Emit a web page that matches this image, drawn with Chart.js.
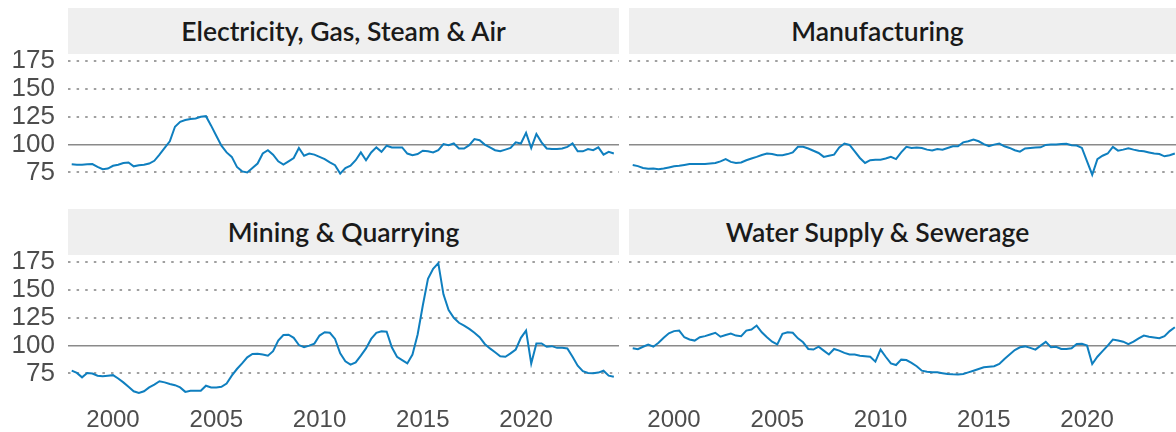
<!DOCTYPE html>
<html>
<head>
<meta charset="utf-8">
<script src="https://cdn.jsdelivr.net/npm/chart.js@4"></script>
<style>
  html, body { margin: 0; padding: 0; background: #fff; }
  body { width: 1176px; height: 432px; overflow: hidden; position: relative; }
  .strip {
    position: absolute; height: 46px; background: #efefef; box-sizing: border-box;
    font-family: Lato, "Noto Sans", sans-serif; font-weight: 600; font-size: 26.5px;
    color: #1a1a1a; line-height: 46px; text-align: center; white-space: nowrap;
  }
  .strip.right { padding-right: 54px; }
  canvas { position: absolute; }
</style>
</head>
<body>
<div class="strip" style="left:68px;top:8px;width:551px">Electricity, Gas, Steam &amp; Air</div>
<div class="strip right" style="left:629px;top:8px;width:551px">Manufacturing</div>
<div class="strip" style="left:68px;top:209px;width:551px">Mining &amp; Quarrying</div>
<div class="strip right" style="left:629px;top:209px;width:551px">Water Supply &amp; Sewerage</div>

<canvas id="c-elec" width="619" height="165" style="left:0;top:34px"></canvas>
<canvas id="c-manu" width="551" height="165" style="left:629px;top:34px"></canvas>
<canvas id="c-mine" width="619" height="197" style="left:0;top:235px"></canvas>
<canvas id="c-water" width="551" height="197" style="left:629px;top:235px"></canvas>

<script>
'use strict';

// quarterly index values, 1998 Q1 onwards
const startYear = 1998;
const yTicks = [75, 100, 125, 150, 175];
const xTicks = [2000, 2005, 2010, 2015, 2020];

const electricity = [
  82.3, 82, 82, 82.3, 82.5, 80, 78, 78.5, 81, 82, 83.5, 84, 80.5, 81.5, 82, 83,
  85.5, 91, 97, 103, 116, 120.5, 122, 123, 123.5, 125, 125.5, 117, 108, 99, 93, 89,
  80, 76, 75, 79, 83, 92, 95, 91, 85, 82, 85, 88, 97, 90, 92, 91,
  89, 87, 84, 81.5, 74, 79, 81, 86, 93, 86, 93, 97.5, 93.5, 99, 97.5, 97.5,
  97.5, 92, 90.5, 91.5, 94.5, 94, 93, 95, 100.5, 99.5, 101, 96.5, 96.5, 99.5, 105, 104,
  100, 97.5, 95, 94, 95.5, 97, 102, 101, 110.5, 97, 109.5, 102, 96.5, 96, 96, 96.5,
  98, 101, 94, 94, 96, 95, 97.5, 91, 93.5, 92
];

const manufacturing = [
  81.7, 80.7, 79, 78.3, 78.5, 78, 78.5, 79.5, 80.5, 81, 81.8, 82.6, 82.6, 82.6, 82.6, 83,
  83.5, 85, 87, 84.5, 83.5, 84, 86, 87.5, 89, 90.7, 92, 91.5, 90.5, 90.5, 91.5, 93,
  98, 98, 96.5, 94.5, 92.5, 89, 90, 91, 97.5, 101, 99.7, 94, 88, 83.5, 86, 86.5,
  86.5, 87.5, 89, 87, 93, 98, 97, 97.5, 97, 95.5, 94.8, 96, 95.5, 97, 98.5, 98.5,
  102, 103, 104.5, 103, 100.5, 98.5, 100, 101, 98.5, 97, 95, 93.7, 96.5, 97, 97.3, 97.6,
  99.7, 100, 100.2, 100.5, 100.8, 99.4, 99.2, 97, 85, 73, 87, 90, 92, 98, 94.6, 95.5,
  96.7, 95.5, 94.5, 94, 93, 92, 91.5, 89.5, 90.5, 92
];

const mining = [
  77.5, 75.5, 71.5, 75.5, 75, 73, 72.5, 73, 73.5, 70.5, 67, 63, 59, 57.5, 59, 62.5,
  65, 68, 67, 65.5, 64.5, 62.5, 58.5, 59.5, 59.5, 59.5, 64, 62.5, 62.5, 63, 66, 73,
  79, 84, 89.5, 92.5, 92.7, 92, 91, 95, 104.5, 109.5, 109.8, 107, 100.5, 98.5, 100, 101.8,
  109, 112, 111.5, 106, 93, 86, 83, 85, 91, 97.5, 106, 111.5, 112.8, 112.5, 98.5, 90,
  87, 84, 92, 110, 136, 160, 169, 174, 146, 132, 125, 120.5, 118, 115, 111.5, 107.5,
  101.5, 97.5, 94, 90.5, 90, 93, 96.5, 107, 113.5, 84, 102, 102, 99, 99.5, 98, 98,
  97.5, 90, 82, 77, 75.5, 75.3, 75.8, 77.5, 73, 72
];

const water = [
  97.6, 96.8, 99, 101, 99, 102.5, 107, 111, 113, 113.5, 107.5, 105.5, 104.5, 107.5, 108.5, 110,
  111.5, 108, 109.5, 110.8, 109, 108.5, 113.5, 114.5, 118, 112, 107.5, 103.5, 101, 110.5, 112, 111.5,
  106.5, 103, 97, 96.5, 99, 95.5, 92, 97, 95.5, 93.5, 92, 92, 91, 90.5, 90, 85.6,
  96.4, 90, 84, 82.6, 87.4, 87, 84.5, 81.5, 77.5, 76.5, 76, 76, 75.3, 74.6, 74.2, 74,
  74.6, 76, 77.5, 79, 80.5, 81, 81.5, 83.5, 88, 92, 96, 98.5, 99.3, 98, 96.4, 100,
  103.4, 98.5, 99, 97, 97, 97.6, 101.5, 101.6, 100, 83.5, 90, 95, 100, 105.5, 104.5, 103.5,
  101.3, 103.5, 106.5, 109, 108, 107.3, 106.7, 108.5, 113, 116.5
];

const tickFont = { family: '"Liberation Sans", Arial, sans-serif', size: 26 };

function toPoints(values) {
  return values.map((v, i) => ({ x: startYear + i / 4, y: v }));
}

function noPad(s) {
  s.paddingTop = 0; s.paddingBottom = 0; s.paddingLeft = 0; s.paddingRight = 0;
}

function makePanel(id, values, showY, showX) {
  const ctx = document.getElementById(id).getContext('2d');
  return new Chart(ctx, {
    type: 'line',
    data: {
      datasets: [{
        data: toPoints(values),
        borderColor: '#0f7fbf',
        borderWidth: 2,
        pointRadius: 0,
        tension: 0,
        fill: false
      }]
    },
    options: {
      responsive: false,
      animation: false,
      devicePixelRatio: 1,
      // top padding leaves room for the 175 label above the plot area
      layout: { padding: { top: 20, left: 0, right: 0, bottom: 0 } },
      plugins: { legend: { display: false }, tooltip: { enabled: false } },
      scales: {
        x: {
          type: 'linear',
          min: 1997.82,
          max: 2024.5,
          display: showX,
          afterBuildTicks: s => { s.ticks = xTicks.map(v => ({ value: v })); },
          afterFit: s => { if (showX) s.height = 32; noPad(s); },
          grid: { display: false, drawTicks: false },
          border: { display: false },
          ticks: {
            font: { family: tickFont.family, size: 24 },
            color: '#4d4d4d',
            padding: 6,
            maxRotation: 0,
            autoSkip: false,
            callback: v => String(v)
          }
        },
        y: {
          min: 51.2,
          max: 181.3,
          afterBuildTicks: s => { s.ticks = yTicks.map(v => ({ value: v })); },
          afterFit: s => { s.width = showY ? 68 : 0; noPad(s); },
          grid: {
            drawTicks: false,
            color: c => c.tick && c.tick.value === 100 ? '#8a8a8a' : '#a0a0a0',
            lineWidth: c => c.tick && c.tick.value === 100 ? 1.6 : 2
          },
          border: {
            display: false,
            dash: c => c.tick && c.tick.value === 100 ? [] : [2.5, 6.1]
          },
          ticks: {
            display: showY,
            font: tickFont,
            color: '#4d4d4d',
            padding: 13,
            autoSkip: false,
            callback: v => String(v)
          }
        }
      }
    }
  });
}

makePanel('c-elec', electricity, true, false);
makePanel('c-manu', manufacturing, false, false);
makePanel('c-mine', mining, true, true);
makePanel('c-water', water, false, true);
</script>
</body>
</html>
